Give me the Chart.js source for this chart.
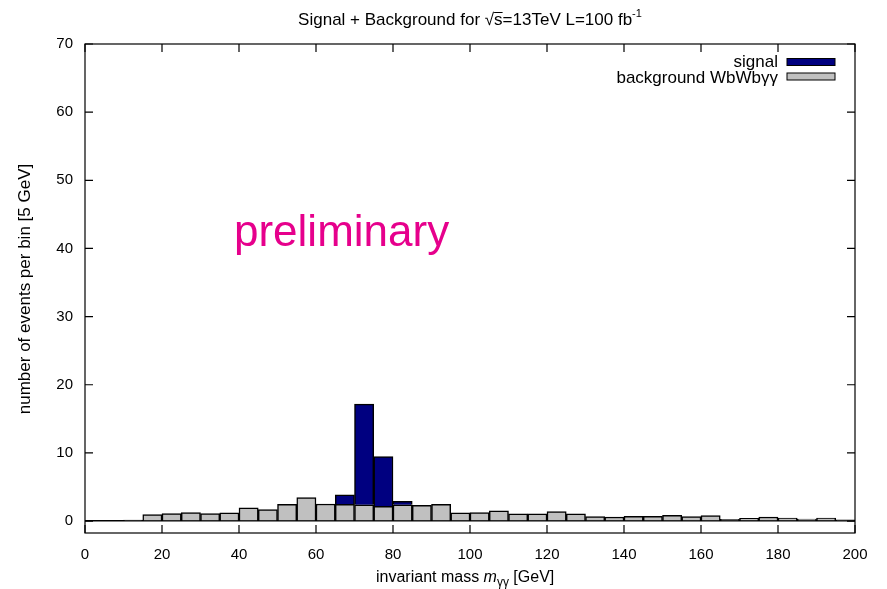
<!DOCTYPE html>
<html>
<head>
<meta charset="utf-8">
<script src="https://cdn.jsdelivr.net/npm/chart.js@4.4.0/dist/chart.umd.min.js"></script>
<style>
html,body{margin:0;padding:0;background:#fff;}
canvas{display:block;}
</style>
</head>
<body>
<canvas id="chart" width="887" height="589"></canvas>
<script>
// 5 GeV bins from 0 to 200
var binWidth = 5;
var binLow = [0,5,10,15,20,25,30,35,40,45,50,55,60,65,70,75,80,85,90,95,
              100,105,110,115,120,125,130,135,140,145,150,155,160,165,170,175,180,185,190,195];
var background = [0,0,0.15,0.95,1.1,1.25,1.1,1.2,1.95,1.7,2.45,3.45,2.5,2.45,2.4,2.15,2.4,2.3,2.45,1.2,
                  1.25,1.5,1.05,1.05,1.4,1.05,0.65,0.6,0.7,0.7,0.85,0.65,0.8,0.25,0.4,0.6,0.45,0.3,0.45,0.2];
var signal = [0,0,0,0,0,0,0,0,0,0,0,0,0,1.4,14.75,7.3,0.5,0,0,0,
              0,0,0,0,0,0,0,0,0,0,0,0,0,0,0,0,0,0,0,0];
var xTicks = [0,20,40,60,80,100,120,140,160,180,200];
var yTicks = [0,10,20,30,40,50,60,70];

var FONT = "'Liberation Sans', Arial, sans-serif";

function toPoints(vals){
    var pts = [];
    for (var i = 0; i < vals.length; i++) pts.push({x: binLow[i] + binWidth/2, y: vals[i]});
    return pts;
}

// gnuplot look: box, inward ticks on all sides, labels
var framePlugin = {
    id: 'frame',
    afterDatasetsDraw: function(chart){
        var ctx = chart.ctx, a = chart.chartArea;
        var xs = chart.scales.x, ys = chart.scales.y;
        ctx.save();
        ctx.strokeStyle = '#000';
        ctx.lineWidth = 1.2;
        ctx.strokeRect(a.left, a.top, a.right - a.left, a.bottom - a.top);
        var tl = 8;
        ctx.beginPath();
        xTicks.forEach(function(v){
            var px = xs.getPixelForValue(v);
            ctx.moveTo(px, a.bottom); ctx.lineTo(px, a.bottom - tl);
            ctx.moveTo(px, a.top); ctx.lineTo(px, a.top + tl);
        });
        yTicks.forEach(function(v){
            var py = ys.getPixelForValue(v);
            ctx.moveTo(a.left, py); ctx.lineTo(a.left + tl, py);
            ctx.moveTo(a.right, py); ctx.lineTo(a.right - tl, py);
        });
        ctx.stroke();
        ctx.restore();
    },
    afterDraw: function(chart){
        var ctx = chart.ctx, a = chart.chartArea;
        var cx = (a.left + a.right) / 2;
        ctx.save();
        ctx.fillStyle = '#000';
        ctx.textBaseline = 'alphabetic';
        ctx.textAlign = 'left';

        // title
        var big = '17px ' + FONT, small = '11px ' + FONT;
        var parts = [['Signal + Background for \u221A', big, 0], ['s', big, 0], ['=13TeV L=100 fb', big, 0], ['-1', small, -8]];
        var w = 0;
        parts.forEach(function(p){ ctx.font = p[1]; w += ctx.measureText(p[0]).width; });
        var x = cx - w/2, by = 25;
        parts.forEach(function(p){
            ctx.font = p[1];
            ctx.fillText(p[0], x, by + p[2]);
            var pw = ctx.measureText(p[0]).width;
            if (p[0] === 's') {
                ctx.fillRect(x, by - 13, pw, 1);
            }
            x += pw;
        });

        // x axis title
        var xparts = [['invariant mass ', '16px ' + FONT, 0], ['m', 'italic 16px ' + FONT, 0],
                      ['\u03B3\u03B3', '12px ' + FONT, 4], [' [GeV]', '16px ' + FONT, 0]];
        w = 0;
        xparts.forEach(function(p){ ctx.font = p[1]; w += ctx.measureText(p[0]).width; });
        x = 376;
        xparts.forEach(function(p){
            ctx.font = p[1];
            ctx.fillText(p[0], x, 582 + p[2]);
            x += ctx.measureText(p[0]).width;
        });

        // y axis title
        ctx.save();
        ctx.translate(30, 289);
        ctx.rotate(-Math.PI/2);
        ctx.font = '17px ' + FONT;
        ctx.textAlign = 'center';
        ctx.fillText('number of events per bin [5 GeV]', 0, 0);
        ctx.restore();

        // legend (gnuplot style: text right, sample box)
        ctx.font = '17px ' + FONT;
        ctx.textAlign = 'right';
        var leg = [['signal', '#000080', 62, 67], ['background WbWb\u03B3\u03B3', '#c0c0c0', 76.5, 83]];
        leg.forEach(function(l){
            ctx.fillText(l[0], 778, l[3]);
            ctx.fillStyle = l[1];
            ctx.fillRect(787, l[2] - 3.5, 48, 7);
            ctx.strokeStyle = '#000';
            ctx.lineWidth = 1;
            ctx.strokeRect(787, l[2] - 3.5, 48, 7);
            ctx.fillStyle = '#000';
        });

        // preliminary stamp
        ctx.textAlign = 'left';
        ctx.font = '44px ' + FONT;
        ctx.fillStyle = '#e6008c';
        ctx.fillText('preliminary', 234, 246);
        ctx.restore();
    }
};

var chart = new Chart(document.getElementById('chart'), {
    type: 'bar',
    data: {
        datasets: [
            {
                label: 'background WbWb\u03B3\u03B3',
                data: toPoints(background),
                backgroundColor: '#c0c0c0',
                borderColor: '#000',
                borderWidth: 1.5,
                categoryPercentage: 1.0,
                barPercentage: 1.0
            },
            {
                label: 'signal',
                data: toPoints(signal),
                backgroundColor: '#000080',
                borderColor: '#000',
                borderWidth: 1.5,
                categoryPercentage: 1.0,
                barPercentage: 1.0
            }
        ]
    },
    options: {
        responsive: false,
        animation: false,
        layout: {padding: {top: 44, right: 32, left: 0, bottom: 0}},
        plugins: {
            legend: {display: false},
            title: {display: false},
            tooltip: {enabled: false}
        },
        scales: {
            x: {
                type: 'linear',
                stacked: true,
                min: 0,
                max: 200,
                offset: false,
                afterFit: function(s){ s.height = 56; },
                afterBuildTicks: function(s){ s.ticks = xTicks.map(function(v){ return {value: v}; }); },
                grid: {display: false, drawTicks: false},
                border: {display: false},
                ticks: {color: '#000', padding: 13, font: {family: FONT, size: 15}, maxRotation: 0, autoSkip: false}
            },
            y: {
                stacked: true,
                min: -1.75,
                max: 70,
                afterFit: function(s){ s.width = 85; },
                afterBuildTicks: function(s){ s.ticks = yTicks.map(function(v){ return {value: v}; }); },
                grid: {
                    drawTicks: false,
                    color: function(c){ return c.tick && c.tick.value === 0 ? '#000' : 'rgba(0,0,0,0)'; },
                    lineWidth: 1.5
                },
                border: {display: false},
                ticks: {color: '#000', padding: 12, font: {family: FONT, size: 15}}
            }
        }
    },
    plugins: [framePlugin]
});
</script>
</body>
</html>
